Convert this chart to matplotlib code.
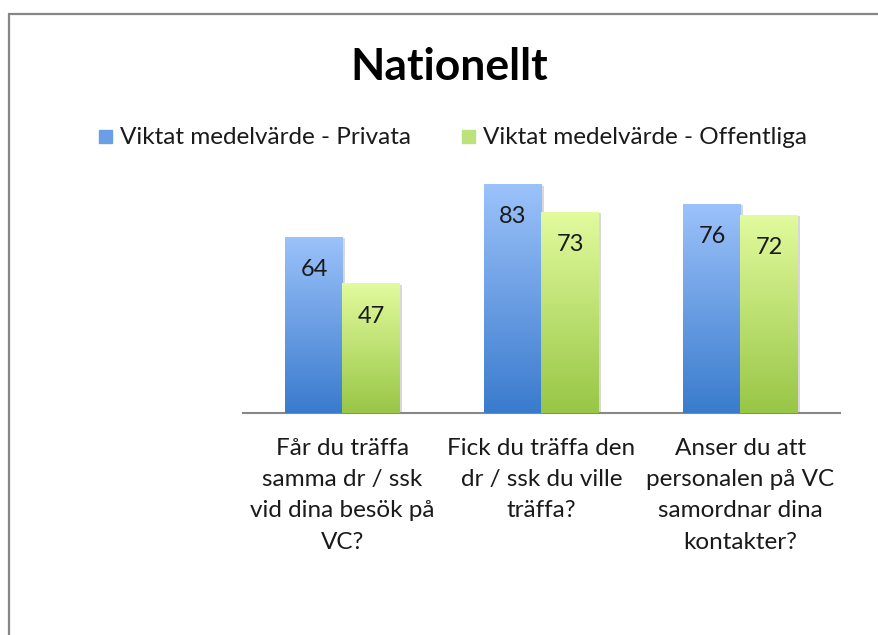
import numpy as np
import matplotlib
matplotlib.use('Agg')
import matplotlib.pyplot as plt
from matplotlib.colors import LinearSegmentedColormap
from matplotlib.patches import Rectangle

plt.rcParams['font.family'] = ['Lato', 'DejaVu Sans']

# Data
kategorier = ['Får du träffa\nsamma dr / ssk\nvid dina besök på\nVC?',
              'Fick du träffa den\ndr / ssk du ville\nträffa?',
              'Anser du att\npersonalen på VC\nsamordnar dina\nkontakter?']
privata = [64, 83, 76]
offentliga = [47, 73, 72]
serier = ['Viktat medelvärde - Privata', 'Viktat medelvärde - Offentliga']

blue_cmap = LinearSegmentedColormap.from_list('b', ['#3a7bcd', '#9cc2fa'])
green_cmap = LinearSegmentedColormap.from_list('g', ['#98c646', '#e2fb9e'])

fig = plt.figure(figsize=(8.79, 6.35), dpi=100)
ax = fig.add_axes([243 / 879, 222 / 635, 597 / 879, 248 / 635])

x = np.arange(len(kategorier))
w = 0.287

def gradient_bars(xs, vals, cmap):
    bars = ax.bar(xs, vals, width=w, color='none', edgecolor='none', zorder=3)
    grad = np.linspace(0, 1, 256).reshape(-1, 1)
    for b in bars:
        bx, by = b.get_x(), b.get_y()
        bw, bh = b.get_width(), b.get_height()
        # skugga
        ax.add_patch(Rectangle((bx + 0.012, by), bw, bh - 0.6, color='#d8d8d8',
                               zorder=2, lw=0))
        im = ax.imshow(grad, cmap=cmap, aspect='auto', origin='lower',
                       extent=[bx, bx + bw, by, by + bh], zorder=3)
        im.set_clip_path(b)
    return bars

b1 = gradient_bars(x - w / 2, privata, blue_cmap)
b2 = gradient_bars(x + w / 2, offentliga, green_cmap)

for bars, vals in [(b1, privata), (b2, offentliga)]:
    for b, v in zip(bars, vals):
        ax.text(b.get_x() + b.get_width() / 2, v - 11.8, str(v), ha='center',
                va='center', fontsize=17, color='#1a1a1a', zorder=4)

ax.set_xlim(-0.5, 2.5)
ax.set_ylim(0, 90)
ax.set_yticks([])
ax.set_xticks(x)
ax.set_xticklabels(kategorier, fontsize=17.5, linespacing=1.6, color='#1a1a1a')
ax.tick_params(axis='x', length=0, pad=18)
for s in ['top', 'right', 'left']:
    ax.spines[s].set_visible(False)
ax.spines['bottom'].set_color('#888888')
ax.spines['bottom'].set_linewidth(1.5)
ax.patch.set_alpha(0)

# Titel
fig.text(449 / 879, 1 - 67 / 635, 'Nationellt', ha='center', va='center',
         fontsize=32, fontweight='bold', color='black')

# Förklaring
leg_cols = ['#6a9fe6', '#bce27a']
leg_x = [99, 462]
for lx, col, namn in zip(leg_x, leg_cols, serier):
    fig.patches.append(Rectangle((lx / 879, 1 - 143 / 635), 13 / 879, 13 / 635,
                                 transform=fig.transFigure, color=col))
    fig.text((lx + 21) / 879, 1 - 137 / 635, namn, ha='left', va='center',
             fontsize=17.5, color='#1a1a1a')

# Ram
fig.patches.append(Rectangle((9 / 879, -0.1), 1.2, 1 - 14 / 635 + 0.1,
                             transform=fig.transFigure, fill=False,
                             edgecolor='#868686', lw=1.6))

plt.savefig('out.png', dpi=100)
